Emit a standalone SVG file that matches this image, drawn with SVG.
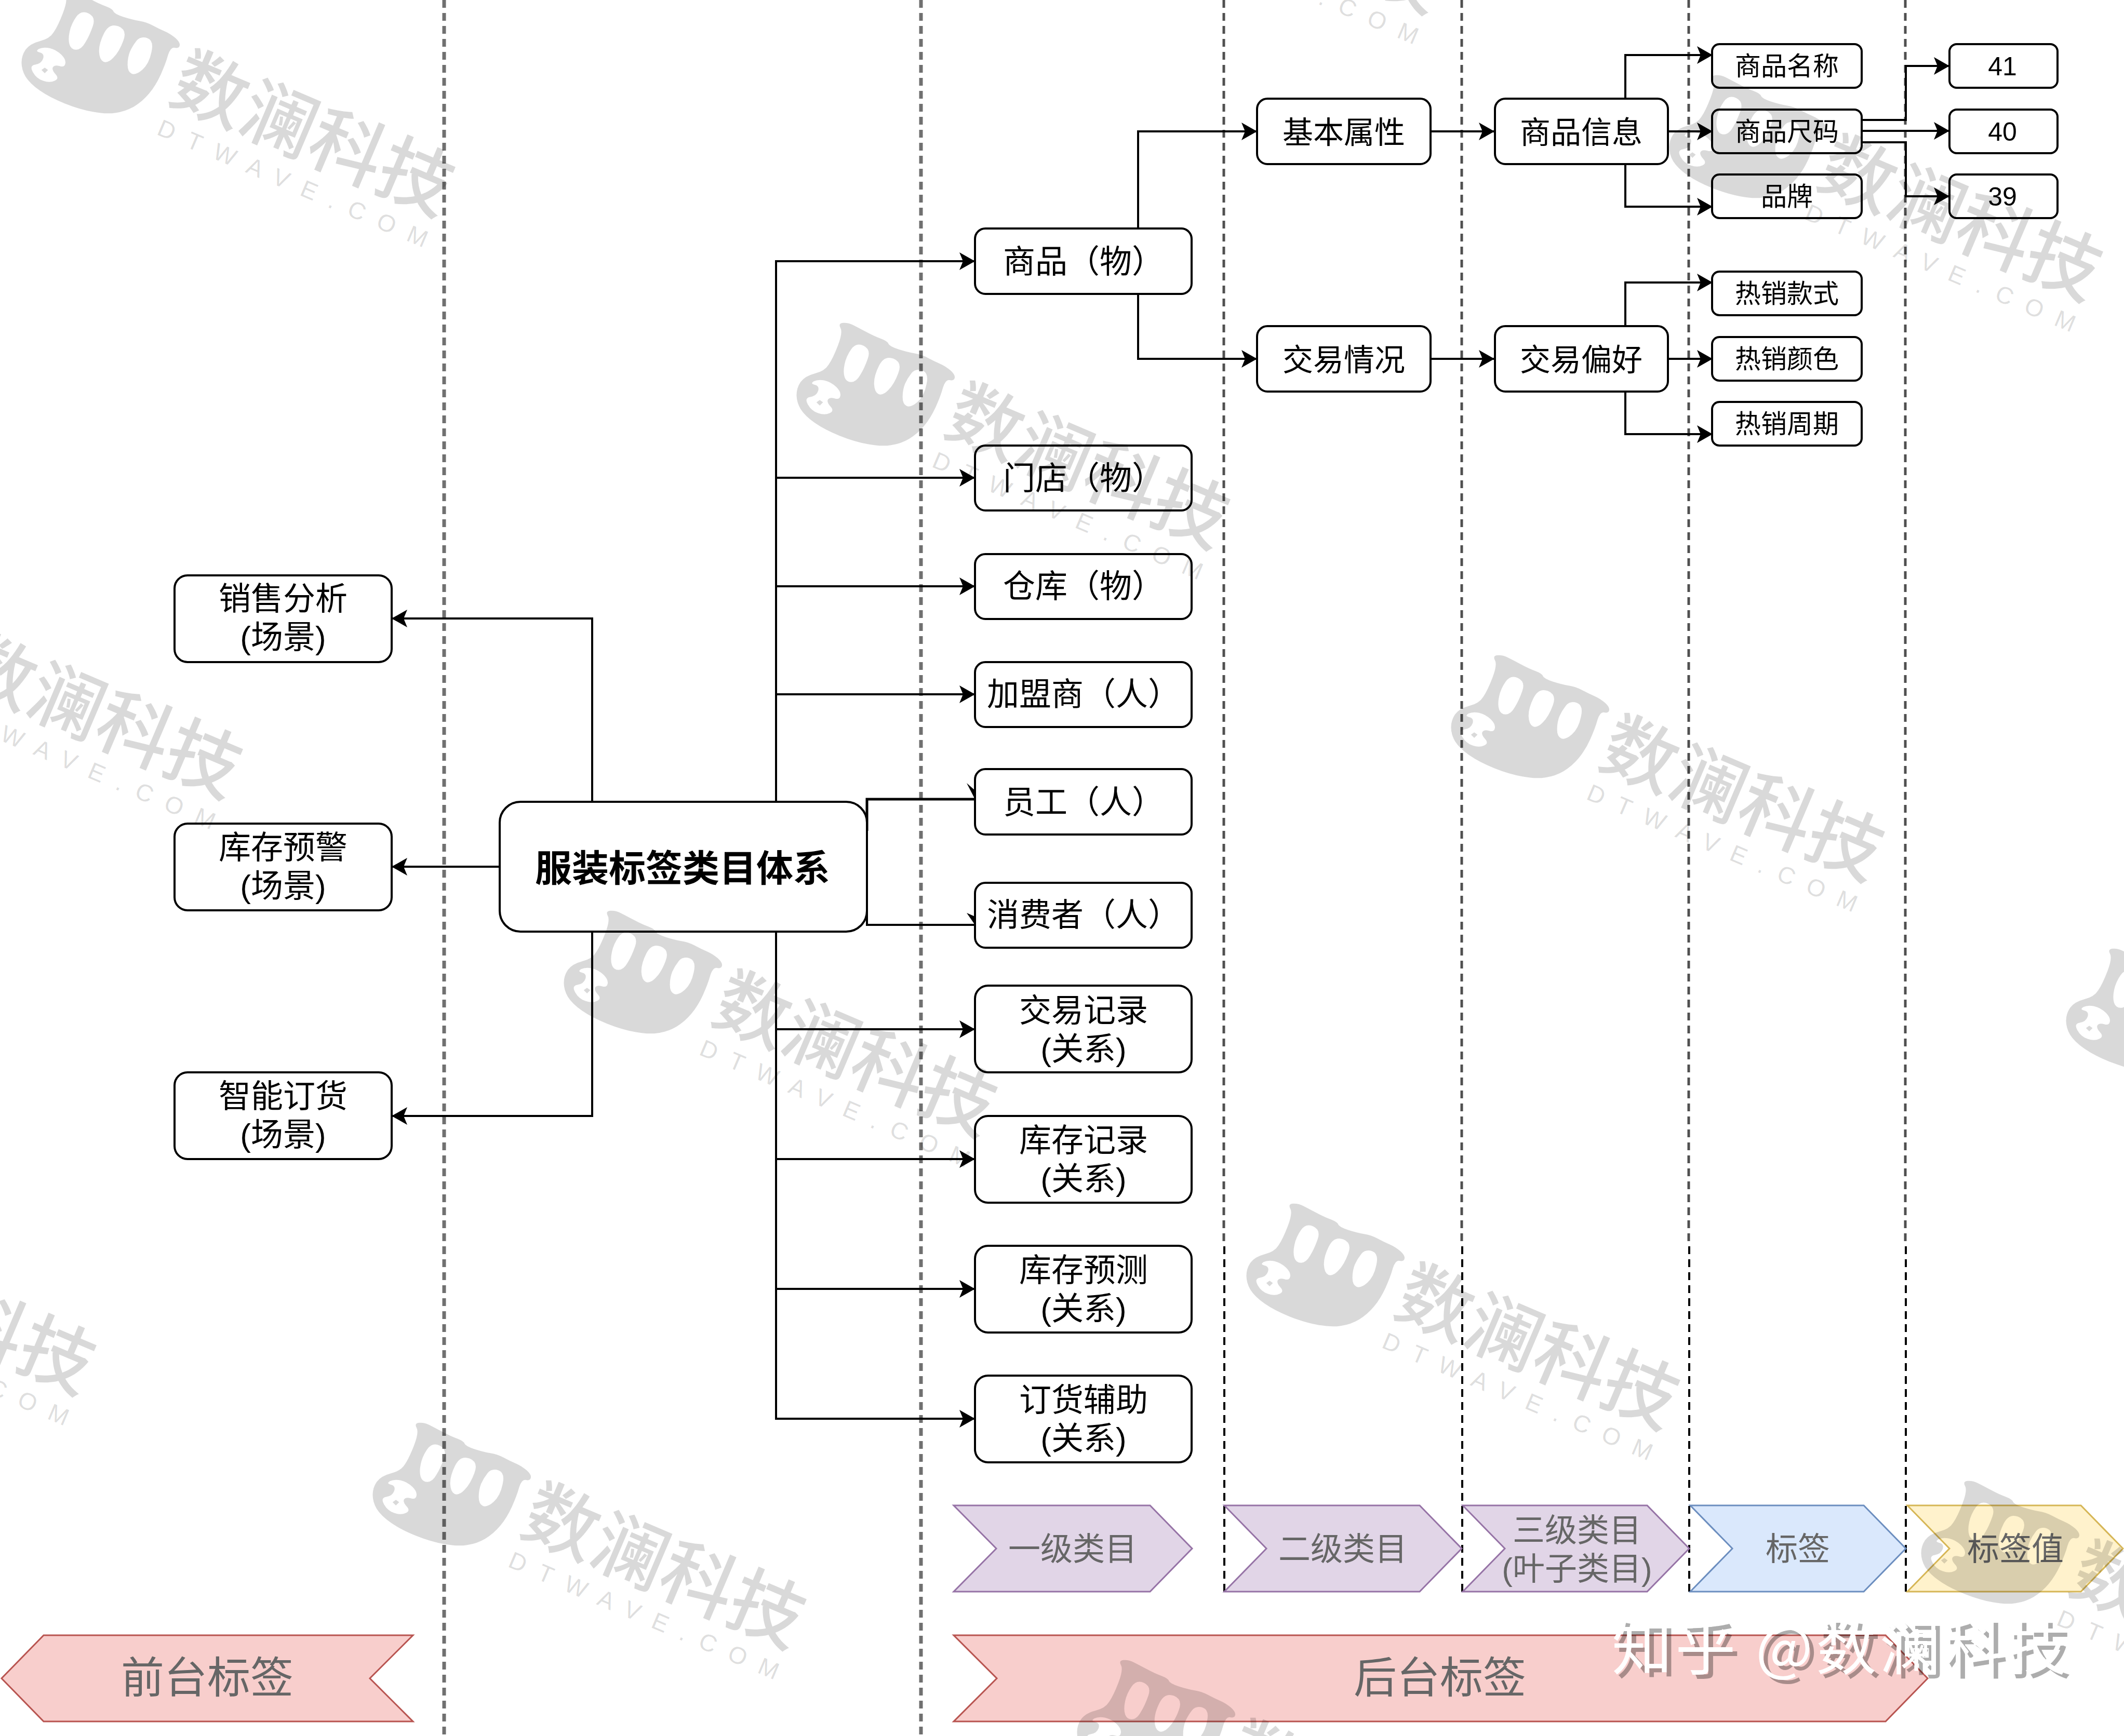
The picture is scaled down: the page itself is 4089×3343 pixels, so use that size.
<svg xmlns="http://www.w3.org/2000/svg" width="4089" height="3343" viewBox="0 0 4089 3343">
<style>
text{font-family:"Liberation Sans","Noto Sans CJK SC",sans-serif;text-anchor:middle;fill:#000}
.n{fill:#fff;stroke:#000;stroke-width:4}
.t{font-size:62px}
.u{font-size:59px}
.s{font-size:50px}
.h{font-size:71px;font-weight:700}
.c{font-size:62px;fill:#666}
.b{font-size:83px;fill:#666}
.d{fill:none;stroke-dasharray:15 10}
.g{stroke:#707070;stroke-width:7}
.m{stroke:#505050;stroke-width:5}
.k{stroke:#000;stroke-width:4}
.l{fill:none;stroke:#000;stroke-width:4;marker-end:url(#a)}
.p{fill:#e1d5e7;stroke:#9673a6;stroke-width:3}
.q{fill:#dae8fc;stroke:#6c8ebf;stroke-width:3}
.y{fill:#fff2cc;stroke:#d6b656;stroke-width:3}
.r{fill:#f8cecc;stroke:#b85450;stroke-width:3}
.w{fill:#000;fill-opacity:.15}
.wt{fill:#000;fill-opacity:.15;font-size:143px;font-weight:500;font-family:"Noto Sans CJK SC",sans-serif;text-anchor:start}
.wu{fill:#000;fill-opacity:.15;font-size:46px;text-anchor:start}
</style>
<defs>
<marker id="a" markerUnits="userSpaceOnUse" markerWidth="32" markerHeight="36" refX="30" refY="17" orient="auto" overflow="visible"><path d="M0 0L30 17L0 34L7 17Z" fill="#000"/></marker>
<filter id="sh" x="-5%" y="-20%" width="110%" height="140%"><feDropShadow dx="9" dy="8" stdDeviation="0.6" flood-color="#000" flood-opacity=".32"/></filter>
<g id="wm">
<path class="w" fill-rule="evenodd" transform="translate(-320 -193) scale(.638 .383)" d="M197.500 -22.500Q190 -45 205 -47.500Q220 -50 235 -37.500Q250 -25 275 -2.500Q300 20 320 32Q340 45 342 57Q345 70 372 85Q400 100 420 105Q440 110 460 127Q480 145 497 157Q515 170 530 192Q545 215 542 230Q540 245 527 240Q515 235 507 277Q500 320 485 375Q470 430 450 470Q430 510 405 535Q380 560 350 567Q320 575 280 562Q240 550 195 520Q150 490 120 455Q90 420 77 385Q65 350 65 315Q65 280 77 250Q90 220 120 207Q150 195 162 162Q175 130 190 65Q205 0 197.500 -22.500ZM230 85Q245 50 267 67Q290 85 280 132Q270 180 257 215Q245 250 230 250Q215 250 210 225Q205 200 210 160Q215 120 230 85ZM314 167Q330 115 357 132Q385 150 372 205Q360 260 342 290Q325 320 312 310Q300 300 299 260Q298 220 314 167ZM412 205Q425 180 445 192Q465 205 457 262Q450 320 430 350Q410 380 397 370Q385 360 385 325Q385 290 392 260Q400 230 412 205ZM99 362Q88 330 106 325Q125 320 130 295Q135 270 120 264Q105 258 117 246Q130 235 150 242Q170 250 185 275Q200 300 197 320Q195 340 180 332Q165 325 160 337Q155 350 167 372Q180 395 165 406Q150 418 130 406Q110 395 99 362ZM135 340L145 352L135 368L125 352Z"/>
<g transform="rotate(23)">
<text class="wt" x="0" y="0">数澜科技</text>
<text class="wu" x="7" y="68" textLength="560" lengthAdjust="spacing">DTWAVE.COM</text>
</g>
</g>
</defs>
<rect width="4089" height="3343" fill="#fff"/>
<g id="dividers">
<path class="d g" d="M855 0V3343"/>
<path class="d g" d="M1773 0V3343"/>
<path class="d m" d="M2356 0V2400"/><path class="d k" d="M2357 2400V3066"/>
<path class="d m" d="M2814 0V2400"/><path class="d k" d="M2815 2400V3066"/>
<path class="d m" d="M3251 0V2400"/><path class="d k" d="M3252 2400V3066"/>
<path class="d m" d="M3668 0V2400"/><path class="d k" d="M3669 2400V3066"/>
</g>
<g id="connectors">
<path class="l" d="M1494 1544V503H1877"/>
<path class="l" d="M1494 920H1877"/>
<path class="l" d="M1494 1129H1877"/>
<path class="l" d="M1494 1337H1877"/>
<path class="l" d="M1494 1795V2732H1877"/>
<path class="l" d="M1494 1982H1877"/>
<path class="l" d="M1494 2232H1877"/>
<path class="l" d="M1494 2482H1877"/>
<path class="l" style="marker-end:none;stroke-width:5" d="M1669 1600V1539H1877"/>
<path d="M1861 1508L1877 1522V1539Z"/>
<path class="l" style="marker-end:none" d="M1669 1740V1781H1877"/>
<path d="M1861 1758L1877 1765V1781Z"/>
<path class="l" d="M1140 1544V1191H754"/>
<path class="l" d="M962 1669H754"/>
<path class="l" d="M1140 1795V2149H754"/>
<path class="l" d="M2191 440V253H2420"/>
<path class="l" d="M2191 566V691H2420"/>
<path class="l" d="M2754 253H2877"/>
<path class="l" d="M2754 691H2877"/>
<path class="l" d="M3129 189V106H3297"/>
<path class="l" d="M3211 253H3297"/>
<path class="l" d="M3129 316V398H3297"/>
<path class="l" d="M3129 628V544H3297"/>
<path class="l" d="M3211 691H3297"/>
<path class="l" d="M3129 753V836H3297"/>
<path class="l" d="M3584 231H3669V127H3753"/>
<path class="l" d="M3584 252H3753"/>
<path class="l" d="M3584 274H3669V378H3753"/>
</g>
<g id="node-sales"><rect class="n" x="336" y="1108" width="418" height="167" rx="25"/><text class="t" x="545" y="1175">销售分析</text><text class="t" x="545" y="1249">(场景)</text></g>
<g id="node-stock-alert"><rect class="n" x="336" y="1586" width="418" height="167" rx="25"/><text class="t" x="545" y="1654">库存预警</text><text class="t" x="545" y="1728">(场景)</text></g>
<g id="node-ordering"><rect class="n" x="336" y="2065" width="418" height="167" rx="25"/><text class="t" x="545" y="2133">智能订货</text><text class="t" x="545" y="2207">(场景)</text></g>
<g id="node-root"><rect class="n" x="962" y="1544" width="707" height="250" rx="40"/><text class="h" x="1314" y="1697">服装标签类目体系</text></g>
<g id="node-goods"><rect class="n" x="1877" y="440" width="417" height="126" rx="20"/><text class="t" x="2086" y="526">商品（物）</text></g>
<g id="node-store"><rect class="n" x="1877" y="858" width="417" height="125" rx="20"/><text class="t" x="2086" y="943">门店（物）</text></g>
<g id="node-warehouse"><rect class="n" x="1877" y="1067" width="417" height="125" rx="20"/><text class="t" x="2086" y="1151">仓库（物）</text></g>
<g id="node-franchisee"><rect class="n" x="1877" y="1275" width="417" height="125" rx="20"/><text class="t" x="2086" y="1359">加盟商（人）</text></g>
<g id="node-staff"><rect class="n" x="1877" y="1481" width="417" height="126" rx="20"/><text class="t" x="2086" y="1567">员工（人）</text></g>
<g id="node-consumer"><rect class="n" x="1877" y="1700" width="417" height="125" rx="20"/><text class="t" x="2086" y="1784">消费者（人）</text></g>
<g id="node-trade-record"><rect class="n" x="1877" y="1898" width="417" height="167" rx="25"/><text class="t" x="2086" y="1968">交易记录</text><text class="t" x="2086" y="2042">(关系)</text></g>
<g id="node-stock-record"><rect class="n" x="1877" y="2149" width="417" height="167" rx="25"/><text class="t" x="2086" y="2218">库存记录</text><text class="t" x="2086" y="2292">(关系)</text></g>
<g id="node-stock-forecast"><rect class="n" x="1877" y="2399" width="417" height="167" rx="25"/><text class="t" x="2086" y="2468">库存预测</text><text class="t" x="2086" y="2542">(关系)</text></g>
<g id="node-order-aid"><rect class="n" x="1877" y="2649" width="417" height="167" rx="25"/><text class="t" x="2086" y="2718">订货辅助</text><text class="t" x="2086" y="2792">(关系)</text></g>
<g id="node-basic"><rect class="n" x="2420" y="190" width="334" height="126" rx="20"/><text class="u" x="2587" y="276">基本属性</text></g>
<g id="node-goods-info"><rect class="n" x="2878" y="190" width="333" height="126" rx="20"/><text class="u" x="3044" y="276">商品信息</text></g>
<g id="node-trade"><rect class="n" x="2420" y="628" width="334" height="126" rx="20"/><text class="u" x="2587" y="714">交易情况</text></g>
<g id="node-trade-pref"><rect class="n" x="2878" y="628" width="333" height="126" rx="20"/><text class="u" x="3044" y="714">交易偏好</text></g>
<g id="node-name"><rect class="n" x="3296" y="85" width="288" height="84" rx="14"/><text class="s" x="3440" y="145">商品名称</text></g>
<g id="node-size"><rect class="n" x="3296" y="211" width="288" height="84" rx="14"/><text class="s" x="3440" y="271">商品尺码</text></g>
<g id="node-brand"><rect class="n" x="3296" y="336" width="288" height="84" rx="14"/><text class="s" x="3440" y="396">品牌</text></g>
<g id="node-hot-style"><rect class="n" x="3296" y="523" width="288" height="84" rx="14"/><text class="s" x="3440" y="583">热销款式</text></g>
<g id="node-hot-color"><rect class="n" x="3296" y="649" width="288" height="84" rx="14"/><text class="s" x="3440" y="709">热销颜色</text></g>
<g id="node-hot-cycle"><rect class="n" x="3296" y="774" width="288" height="84" rx="14"/><text class="s" x="3440" y="834">热销周期</text></g>
<g id="node-41"><rect class="n" x="3753" y="85" width="208" height="84" rx="14"/><text class="s" x="3855" y="145">41</text></g>
<g id="node-40"><rect class="n" x="3753" y="211" width="208" height="84" rx="14"/><text class="s" x="3855" y="271">40</text></g>
<g id="node-39"><rect class="n" x="3753" y="336" width="208" height="84" rx="14"/><text class="s" x="3855" y="396">39</text></g>
<g id="band-l1"><path class="p" d="M1836 2899H2214L2295 2982L2214 3065H1836L1918 2982Z"/><text class="c" x="2065" y="3005">一级类目</text></g>
<g id="band-l2"><path class="p" d="M2357 2899H2733L2814 2982L2733 3065H2357L2438 2982Z"/><text class="c" x="2585" y="3005">二级类目</text></g>
<g id="band-l3"><path class="p" d="M2816 2899H3171L3252 2982L3171 3065H2816L2897 2982Z"/><text class="c" x="3036" y="2969">三级类目</text><text class="c" x="3036" y="3043">(叶子类目)</text></g>
<g id="band-tag"><path class="q" d="M3254 2899H3588L3669 2982L3588 3065H3254L3335 2982Z"/><text class="c" x="3461" y="3005">标签</text></g>
<g id="band-value"><path class="y" d="M3672 2899H4006L4087 2982L4006 3065H3672L3753 2982Z"/><text class="c" x="3880" y="3005">标签值</text></g>
<g id="band-front"><path class="r" d="M84 3149H795L712 3232L795 3315H84L3 3232Z"/><text class="b" x="399" y="3260">前台标签</text></g>
<g id="band-back"><path class="r" d="M1836 3149H3630L3711 3232L3630 3315H1836L1919 3232Z"/><text class="b" x="2772" y="3260">后台标签</text></g>
<g id="watermarks">
<use href="#wm" x="320" y="193"/>
<use href="#wm" x="1812" y="833"/>
<use href="#wm" x="3072" y="1473"/>
<use href="#wm" x="1364" y="1965"/>
<use href="#wm" x="2678" y="2529"/>
<use href="#wm" x="996" y="2951"/>
<use href="#wm" x="3492" y="356"/>
<use href="#wm" x="3977" y="3063"/>
<use href="#wm" x="-89" y="1314"/>
<use href="#wm" x="-371" y="2462"/>
<use href="#wm" x="2227" y="-198"/>
<use href="#wm" x="4256" y="2038"/>
<use href="#wm" x="2352" y="3408"/>
</g>
<text x="3103" y="3215" filter="url(#sh)" textLength="876" lengthAdjust="spacing" style="font-size:116px;fill:#fff;text-anchor:start;font-family:'Noto Sans CJK SC','Liberation Sans',sans-serif">知乎 @数澜科技</text>
</svg>
